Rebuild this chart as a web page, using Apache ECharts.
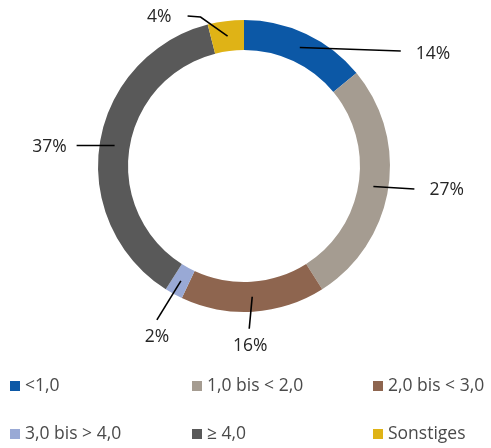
<!DOCTYPE html>
<html>
<head>
<meta charset="utf-8">
<script src="https://cdn.jsdelivr.net/npm/echarts@6/dist/echarts.min.js"></script>
<style>
  html, body { margin: 0; padding: 0; background: #fff; }
  #chart { width: 491px; height: 448px; }
</style>
</head>
<body>
<div id="chart"></div>
<script>
// ---- data ----
const categories = ['<1,0', '1,0 bis < 2,0', '2,0 bis < 3,0', '3,0 bis > 4,0', '≥ 4,0', 'Sonstiges'];
const shares = [14, 27, 16, 2, 37, 4];   // percent

// ---- styles / layout ----
const colors = ['#0c58a6', '#a59c91', '#8e654f', '#99a9d5', '#595959', '#dfb316'];
const CX = 244, CY = 166, R_IN = 116, R_OUT = 146;
const R_ANCHOR = (R_IN + R_OUT) / 2;
// leader line geometry relative to the anchor point (label-layout only)
const leader = [
  { pts: [[101, 3.5]],          txt: [15, 3],   align: 'left',   va: 'middle' },
  { pts: [[41, 2.5]],           txt: [15, 1],   align: 'left',   va: 'middle' },
  { pts: [[-3, 32]],            txt: [1, 17],   align: 'center', va: 'middle' },
  { pts: [[-24, 39]],           txt: [0, 17],   align: 'center', va: 'middle' },
  { pts: [[-38, 0]],            txt: [-10, 2],  align: 'right',  va: 'middle' },
  { pts: [[-27, -19], [-40, -20]], txt: [-16, 1], align: 'right', va: 'middle' }
];
const legendPos = [[10, 377], [192, 377], [373, 377], [10, 425], [192, 425], [373, 425]];

const total = shares.reduce((a, b) => a + b, 0);
function anchorOf(i) {
  let cum = 0;
  for (let k = 0; k < i; k++) cum += shares[k];
  const mid = (cum + shares[i] / 2) / total * 2 * Math.PI;
  return [CX + R_ANCHOR * Math.sin(mid), CY - R_ANCHOR * Math.cos(mid)];
}

const chart = echarts.init(document.getElementById('chart'), null, { renderer: 'canvas' });
const font = '"Open Sans", "Noto Sans", sans-serif';
const seriesData = categories.map((name, i) => ({ name: name, value: shares[i] }));

const legends = categories.map((name, i) => ({
  data: [name],
  left: legendPos[i][0],
  top: legendPos[i][1],
  padding: 0,
  icon: 'rect',
  itemWidth: 10,
  itemHeight: 10,
  selectedMode: false,
  textStyle: { fontSize: 17.5, color: '#4a4a4a', fontFamily: font }
}));

chart.setOption({
  animation: false,
  color: colors,
  legend: legends,
  series: [{
    type: 'pie',
    center: [CX, CY],
    radius: [R_IN, R_OUT],
    startAngle: 90,
    clockwise: true,
    silent: true,
    z: 2,
    itemStyle: { borderWidth: 0 },
    label: { show: false },
    labelLine: { show: false },
    data: seriesData
  }, {
    type: 'pie',
    center: [CX, CY],
    radius: [R_IN, R_ANCHOR],
    startAngle: 90,
    clockwise: true,
    avoidLabelOverlap: false,
    silent: true,
    z: 5,
    itemStyle: { color: 'rgba(0,0,0,0)', borderWidth: 0 },
    label: {
      show: true,
      position: 'outside',
      formatter: '{c}%',
      fontSize: 17.5,
      color: '#262626',
      fontFamily: font
    },
    labelLine: {
      show: true,
      lineStyle: { color: '#000', width: 1.6 }
    },
    labelLayout: function (p) {
      const i = p.dataIndex;
      const a = anchorOf(i);
      const L = leader[i];
      const pts = [a].concat(L.pts.map(d => [a[0] + d[0], a[1] + d[1]]));
      if (pts.length === 2) pts.splice(1, 0, [(pts[0][0] + pts[1][0]) / 2, (pts[0][1] + pts[1][1]) / 2]);
      const end = pts[pts.length - 1];
      return {
        x: end[0] + L.txt[0],
        y: end[1] + L.txt[1],
        align: L.align,
        verticalAlign: L.va,
        labelLinePoints: pts
      };
    },
    data: seriesData
  }]
});
</script>
</body>
</html>
